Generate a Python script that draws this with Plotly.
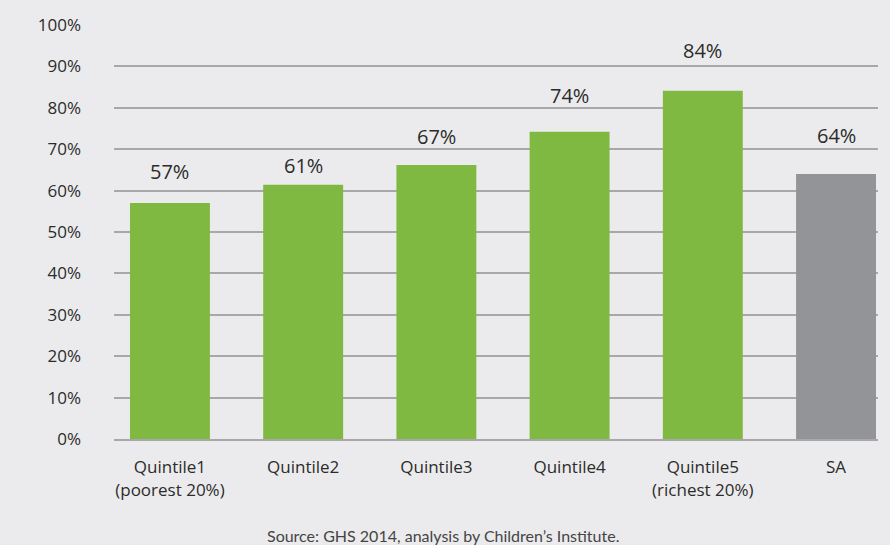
import plotly.graph_objects as go

categories = ["Quintile1<br>(poorest 20%)", "Quintile2", "Quintile3", "Quintile4",
              "Quintile5<br>(richest 20%)", "SA"]
values = [57.0, 61.4, 66.2, 74.2, 84.1, 64.0]
labels = ["57%", "61%", "67%", "74%", "84%", "64%"]
colors = ["#80B941", "#80B941", "#80B941", "#80B941", "#80B941", "#939497"]
y_ticks = [0, 10, 20, 30, 40, 50, 60, 70, 80, 90, 100]
y_tick_text = [f"{v}%" for v in y_ticks]

# style: vertical pixel offset of each value label above its bar
LABEL_SHIFT = [32, 19, 28, 36, 40, 39]

FONT = "Open Sans"
fig = go.Figure()
fig.add_trace(go.Bar(x=list(range(len(categories))), y=values, marker_color=colors,
                     marker_line_width=0, width=0.6, hoverinfo="skip"))

for i, (v, t) in enumerate(zip(values, labels)):
    fig.add_annotation(x=i, y=v, text=t, showarrow=False, yshift=LABEL_SHIFT[i],
                       font=dict(family=FONT, size=20, color="#2b2b2b"))

fig.add_annotation(x=0.43, y=-0.232, xref="paper", yref="paper", yanchor="middle",
                   text="Source: GHS 2014, analysis by Children\u2019s Institute.",
                   showarrow=False, font=dict(family="Lato", size=16, color="#444444"))

fig.update_layout(
    width=890, height=545,
    margin=dict(l=114, r=12, t=25, b=106),
    paper_bgcolor="#EBEBED", plot_bgcolor="#EBEBED",
    showlegend=False,
    xaxis=dict(tickmode="array", tickvals=list(range(len(categories))), ticktext=categories,
               range=[-0.42, 5.315], showgrid=False, zeroline=False,
               showline=True, linecolor="#A8A8AA", linewidth=2,
               tickfont=dict(family=FONT, size=17, color="#2b2b2b"), ticks="",
               ticklabelstandoff=12),
    yaxis=dict(range=[0, 100], tickmode="array", tickvals=y_ticks, ticktext=y_tick_text,
               showgrid=True, gridcolor="#A8A8AA", gridwidth=2, zeroline=False,
               tickfont=dict(family=FONT, size=17, color="#2b2b2b"),
               ticklabelstandoff=32, ticks=""),
)
fig.write_html("out.html", config={"displayModeBar": False},
               post_script="document.body.style.margin='0';document.body.style.background='#EBEBED';")
